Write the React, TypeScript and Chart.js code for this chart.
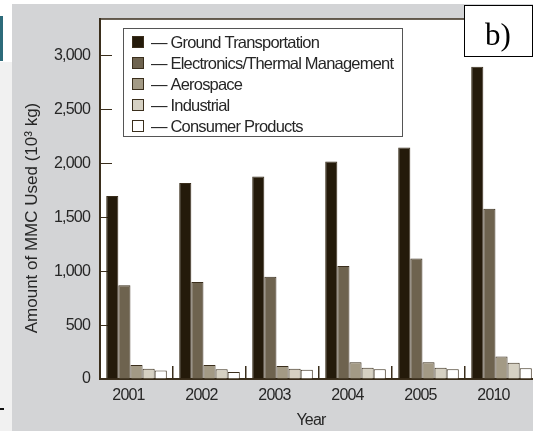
import { useEffect, useRef } from 'react';
import { Chart, registerables } from 'chart.js';

Chart.register(...registerables);

// Categories and series (10^3 kg)
const years = ['2001', '2002', '2003', '2004', '2005', '2010'];
const seriesNames = [
  'Ground Transportation',
  'Electronics/Thermal Management',
  'Aerospace',
  'Industrial',
  'Consumer Products',
];
const ground = [1700, 1820, 1880, 2020, 2150, 2900];
const electronics = [870, 900, 950, 1050, 1120, 1580];
const aerospace = [130, 130, 120, 155, 155, 210];
const industrial = [95, 90, 95, 105, 105, 150];
const consumer = [80, 65, 85, 90, 90, 100];
const yTickValues = [0, 500, 1000, 1500, 2000, 2500, 3000];
const xTitle = 'Year';
const yTitle = 'Amount of MMC Used (10\u00b3 kg)';

const fills = ['#241a0a', '#6e634f', '#a39a85', '#d6d1c3', '#ffffff'];
const INK = '#3a2e1c';
const TEXT = '#262626';
const FONT = "'Liberation Sans', Arial, sans-serif";
const TIGHT = '-0.8px';

const W = 545;
const H = 431;

const tighten = (chart: any) => {
  (chart.ctx as any).letterSpacing = TIGHT;
};

const backdrop = {
  id: 'backdrop',
  beforeLayout: tighten,
  beforeDraw(chart: any) {
    tighten(chart);
    const { ctx, chartArea } = chart;
    ctx.save();
    ctx.fillStyle = '#ffffff';
    ctx.fillRect(0, 0, W, H);
    ctx.fillStyle = '#f1f1f1';
    ctx.fillRect(0, 62, 12, H - 62);
    ctx.fillStyle = '#d3d4d6';
    ctx.fillRect(12, 4, W - 12, H - 4);
    ctx.fillStyle = '#2d6b7a';
    ctx.fillRect(0, 16, 3, 45);
    ctx.fillStyle = '#111111';
    ctx.fillRect(0, 408, 4, 2);
    ctx.fillStyle = '#ffffff';
    ctx.fillRect(chartArea.left, chartArea.top, W - chartArea.left, chartArea.bottom - chartArea.top);
    ctx.restore();
  },
};

const frame = {
  id: 'frame',
  afterDraw(chart: any) {
    const { ctx, chartArea } = chart;
    ctx.save();
    // top frame line
    ctx.strokeStyle = INK;
    ctx.lineWidth = 1.5;
    ctx.beginPath();
    ctx.moveTo(chartArea.left - 1, chartArea.top);
    ctx.lineTo(464, chartArea.top);
    ctx.stroke();

    // axis titles
    ctx.fillStyle = TEXT;
    ctx.textAlign = 'center';
    ctx.textBaseline = 'middle';
    ctx.font = `16px ${FONT}`;
    ctx.fillText(xTitle, 311, 421);
    ctx.save();
    ctx.letterSpacing = '0px';
    ctx.font = `17px ${FONT}`;
    ctx.translate(32, 218);
    ctx.rotate(-Math.PI / 2);
    ctx.fillText(yTitle, 0, 0);
    ctx.restore();

    // legend box
    ctx.fillStyle = '#ffffff';
    ctx.fillRect(123, 28, 279, 108);
    ctx.strokeStyle = '#555555';
    ctx.lineWidth = 1;
    ctx.strokeRect(123.5, 28.5, 279, 108);
    chart.data.datasets.forEach((ds: any, i: number) => {
      const cy = 42 + 21 * i;
      ctx.fillStyle = ds.backgroundColor;
      ctx.fillRect(132, cy - 6, 12, 12);
      ctx.strokeStyle = INK;
      ctx.lineWidth = 1;
      ctx.strokeRect(132.5, cy - 5.5, 11, 11);
      ctx.fillStyle = TEXT;
      ctx.font = `16.5px ${FONT}`;
      ctx.textBaseline = 'middle';
      ctx.textAlign = 'left';
      ctx.fillText('\u2014 ' + ds.label, 151, cy + 1);
    });

    // panel tag
    ctx.letterSpacing = '0px';
    ctx.fillStyle = '#ffffff';
    ctx.fillRect(464, 5, 69, 52);
    ctx.strokeStyle = '#000000';
    ctx.lineWidth = 1;
    ctx.strokeRect(464.5, 5.5, 68, 51);
    ctx.fillStyle = '#000000';
    ctx.font = "31px 'Liberation Serif', 'DejaVu Serif', serif";
    ctx.textAlign = 'center';
    ctx.textBaseline = 'alphabetic';
    ctx.fillText('b)', 498, 45);
    ctx.restore();
  },
};

export default function App() {
  const ref = useRef<HTMLCanvasElement | null>(null);

  useEffect(() => {
    if (!ref.current) return;
    const series = [ground, electronics, aerospace, industrial, consumer];
    const chart = new Chart(ref.current, {
      type: 'bar',
      data: {
        labels: years,
        datasets: series.map((values, i) => ({
          label: seriesNames[i],
          data: values,
          backgroundColor: fills[i],
          borderColor: INK,
          borderWidth: 1,
          categoryPercentage: 0.83,
          barPercentage: 1,
        })),
      },
      options: {
        responsive: false,
        animation: false,
        devicePixelRatio: 1,
        layout: { padding: { left: 12, top: 19, right: 7, bottom: 0 } },
        plugins: { legend: { display: false }, tooltip: { enabled: false } },
        scales: {
          x: {
            type: 'category',
            offset: true,
            grid: {
              display: true,
              offset: true,
              drawOnChartArea: false,
              drawTicks: true,
              tickLength: -13,
              color: INK,
              lineWidth: 1.5,
            },
            border: { display: true, color: INK, width: 2 },
            ticks: {
              font: { family: FONT, size: 16 },
              color: TEXT,
              padding: 20,
              labelOffset: -8,
              maxRotation: 0,
              autoSkip: false,
            },
            afterFit: (s: any) => {
              s.height = 52;
              s.paddingLeft = 0;
              s.paddingRight = 0;
            },
          },
          y: {
            min: 0,
            max: 3343,
            afterBuildTicks: (s: any) => {
              s.ticks = yTickValues.map((v) => ({ value: v }));
            },
            grid: {
              display: true,
              drawOnChartArea: false,
              drawTicks: true,
              tickLength: -12,
              color: INK,
              lineWidth: 1,
            },
            border: { display: true, color: INK, width: 2 },
            ticks: {
              font: { family: FONT, size: 16 },
              color: TEXT,
              padding: 22,
            },
            afterFit: (s: any) => {
              s.width = 88;
              s.paddingTop = 0;
              s.paddingBottom = 0;
            },
          },
        },
      },
      plugins: [backdrop, frame],
    });
    return () => chart.destroy();
  }, []);

  return (
    <div style={{ position: 'fixed', left: 0, top: 0, width: 533, height: 431, overflow: 'hidden' }}>
      <canvas ref={ref} width={W} height={H} style={{ display: 'block', width: W, height: H }} />
    </div>
  );
}
